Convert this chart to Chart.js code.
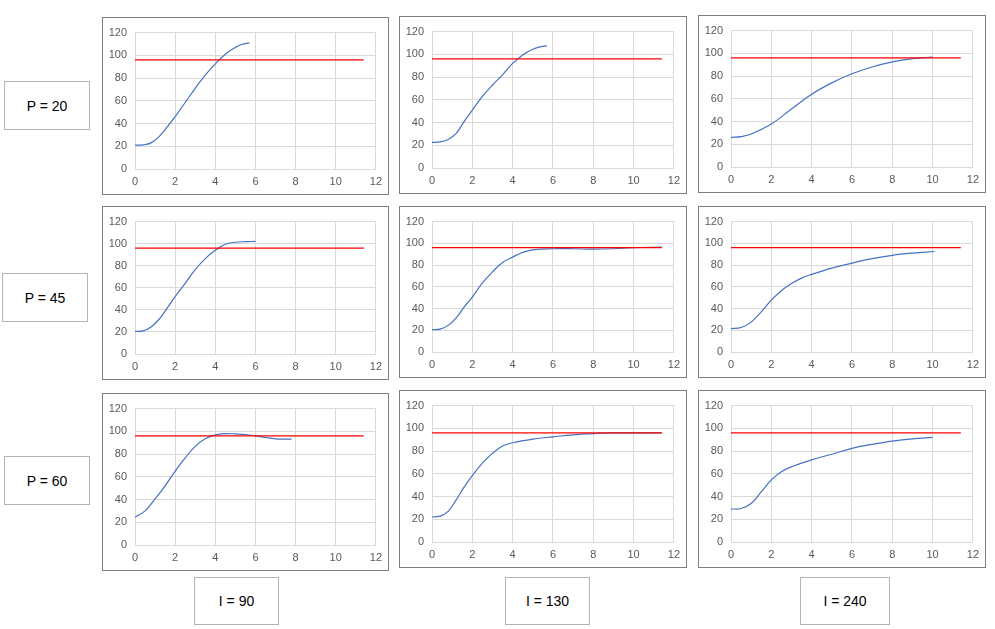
<!DOCTYPE html>
<html>
<head>
<meta charset="utf-8">
<script src="https://cdn.jsdelivr.net/npm/chart.js@4/dist/chart.umd.min.js"></script>
<style>
  body { margin: 0; background: #fff; width: 995px; height: 629px; position: relative; overflow: hidden; font-family: "Liberation Sans", Arial, sans-serif; }
  .ruta { position: absolute; border: 1px solid #7f7f7f; box-sizing: border-box; background: #fff; }
  .ruta canvas { position: absolute; left: 0; top: 0; }
  .etikett { position: absolute; border: 1px solid #b4b4b4; box-sizing: border-box; display: flex; align-items: center; justify-content: center; font-size: 14px; color: #000; }
</style>
</head>
<body>
<script>
// radetiketter och kolumnetiketter
const pLabels = ["P = 20", "P = 45", "P = 60"];
const iLabels = ["I = 90", "I = 130", "I = 240"];
const börvärde = 96;
const börX = [0, 11.4];

// P = 20
const x_p20_i90  = [0, 0.4, 0.8, 1.2, 1.6, 2, 2.5, 3, 3.5, 4, 4.5, 5, 5.3, 5.7];
const y_p20_i90  = [21, 21.2, 23, 28.5, 37, 46, 58.5, 71, 82.5, 92.5, 101, 107, 109.5, 111];
const x_p20_i130 = [0, 0.4, 0.8, 1.2, 1.6, 2, 2.5, 3, 3.5, 4, 4.5, 5, 5.4, 5.7];
const y_p20_i130 = [22.5, 23, 25, 30.5, 41, 51, 63, 73, 82, 92, 99.5, 104.5, 106.8, 107.5];
const x_p20_i240 = [0, 0.5, 1, 2, 3, 4, 5, 6, 7, 8, 9, 10];
const y_p20_i240 = [26, 26.8, 29, 37.8, 51, 64, 74, 82, 88, 92.5, 95.3, 96.6];

// P = 45
const x_p45_i90  = [0, 0.4, 0.8, 1.2, 1.6, 2, 2.5, 3, 3.5, 4, 4.5, 5, 5.5, 6];
const y_p45_i90  = [20.5, 21, 24.5, 31.5, 41.5, 52, 64, 76.5, 86.5, 94, 99.5, 101.3, 101.8, 102];
const x_p45_i130 = [0, 0.4, 0.8, 1.2, 1.6, 2, 2.5, 3, 3.5, 4, 4.5, 5, 6, 7, 8, 9, 10, 11.4];
const y_p45_i130 = [20.5, 21, 24.5, 31.5, 41.5, 50.6, 63.5, 73.7, 82.4, 87.3, 91.7, 94, 95, 95, 94.6, 95, 96, 96.6];
const x_p45_i240 = [0, 0.5, 1, 1.5, 2, 2.5, 3, 3.5, 4, 5, 6, 7, 8, 9, 10.1];
const y_p45_i240 = [21.5, 22.5, 27.5, 37, 47.7, 56.4, 63, 68, 71.4, 77.2, 81.8, 85.9, 89, 91, 92.5];

// P = 60
const x_p60_i90  = [0, 0.5, 1, 1.5, 2, 2.5, 3, 3.5, 4, 4.5, 5, 5.5, 6, 6.5, 7, 7.5, 7.8];
const y_p60_i90  = [24.5, 30, 40.5, 52, 65, 76.6, 86.8, 93.4, 96.9, 98, 97.7, 97.2, 96, 94.6, 93.4, 93.1, 93.1];
const x_p60_i130 = [0, 0.4, 0.8, 1.2, 1.6, 2, 2.5, 3, 3.5, 4, 5, 6, 7, 8, 9, 10, 11.4];
const y_p60_i130 = [22, 22.8, 27, 37, 48.5, 58.4, 69.4, 78, 84.4, 87.3, 90.5, 92.5, 94.3, 95.4, 96, 96, 96];
const x_p60_i240 = [0, 0.5, 1, 1.5, 2, 2.5, 3, 4, 5, 6, 7, 8, 9, 10];
const y_p60_i240 = [29, 29.5, 33.8, 44, 54.7, 61.9, 66.2, 72.3, 77.2, 82.4, 85.9, 88.8, 90.8, 92];

const serier = [
  [x_p20_i90, y_p20_i90], [x_p20_i130, y_p20_i130], [x_p20_i240, y_p20_i240],
  [x_p45_i90, y_p45_i90], [x_p45_i130, y_p45_i130], [x_p45_i240, y_p45_i240],
  [x_p60_i90, y_p60_i90], [x_p60_i130, y_p60_i130], [x_p60_i240, y_p60_i240]
];

// rutornas placering [vänster, topp, bredd, höjd]
const rutor = [
  [102, 17, 287, 178], [399, 16, 288, 178], [698, 15, 288, 178],
  [102, 206, 287, 174], [399, 206, 288, 172], [698, 206, 288, 172],
  [102, 393, 287, 178], [399, 390, 288, 178], [698, 390, 288, 178]
];
const pRutor = [[4, 81, 86, 49], [2, 273, 86, 49], [4, 456, 86, 49]];
const iRutor = [[194, 577, 85, 48], [505, 577, 85, 48], [800, 577, 90, 48]];

function skapaEtikett(text, r) {
  const d = document.createElement("div");
  d.className = "etikett";
  d.style.left = r[0] + "px"; d.style.top = r[1] + "px";
  d.style.width = r[2] + "px"; d.style.height = r[3] + "px";
  d.textContent = text;
  document.body.appendChild(d);
}
pLabels.forEach((t, i) => skapaEtikett(t, pRutor[i]));
iLabels.forEach((t, i) => skapaEtikett(t, iRutor[i]));

const tickFont = { family: "'Liberation Sans', Arial, sans-serif", size: 11 };

serier.forEach((s, i) => {
  const r = rutor[i];
  const div = document.createElement("div");
  div.className = "ruta";
  div.style.left = r[0] + "px"; div.style.top = r[1] + "px";
  div.style.width = r[2] + "px"; div.style.height = r[3] + "px";
  const c = document.createElement("canvas");
  c.width = r[2] - 2; c.height = r[3] - 2;
  c.style.width = (r[2] - 2) + "px"; c.style.height = (r[3] - 2) + "px";
  div.appendChild(c);
  document.body.appendChild(div);

  const punkter = s[0].map((x, k) => ({ x: x, y: s[1][k] }));
  const linje = börX.map(x => ({ x: x, y: börvärde }));

  new Chart(c.getContext("2d"), {
    type: 'scatter',
    data: {
      datasets: [
        { data: linje, showLine: true, borderColor: '#ff0000', borderWidth: 1.2, pointRadius: 0, fill: false },
        { data: punkter, showLine: true, borderColor: '#4472c4', borderWidth: 1.2, pointRadius: 0, fill: false, tension: 0.4 }
      ]
    },
    options: {
      responsive: false,
      animation: false,
      layout: { padding: { left: 2, right: 11, top: 12, bottom: 4 } },
      plugins: { legend: { display: false }, tooltip: { enabled: false } },
      scales: {
        x: {
          type: 'linear', min: 0, max: 12,
          ticks: { stepSize: 2, font: tickFont, color: '#595959', padding: 6 },
          grid: { color: '#d9d9d9', drawTicks: false },
          border: { display: false },
          afterFit: ax => { ax.height = 21; }
        },
        y: {
          min: 0, max: 120,
          ticks: { stepSize: 20, font: tickFont, color: '#595959', padding: 8 },
          grid: { color: '#d9d9d9', drawTicks: false },
          border: { display: false },
          afterFit: ax => { ax.width = 30; }
        }
      }
    }
  });
});
</script>
</body>
</html>
